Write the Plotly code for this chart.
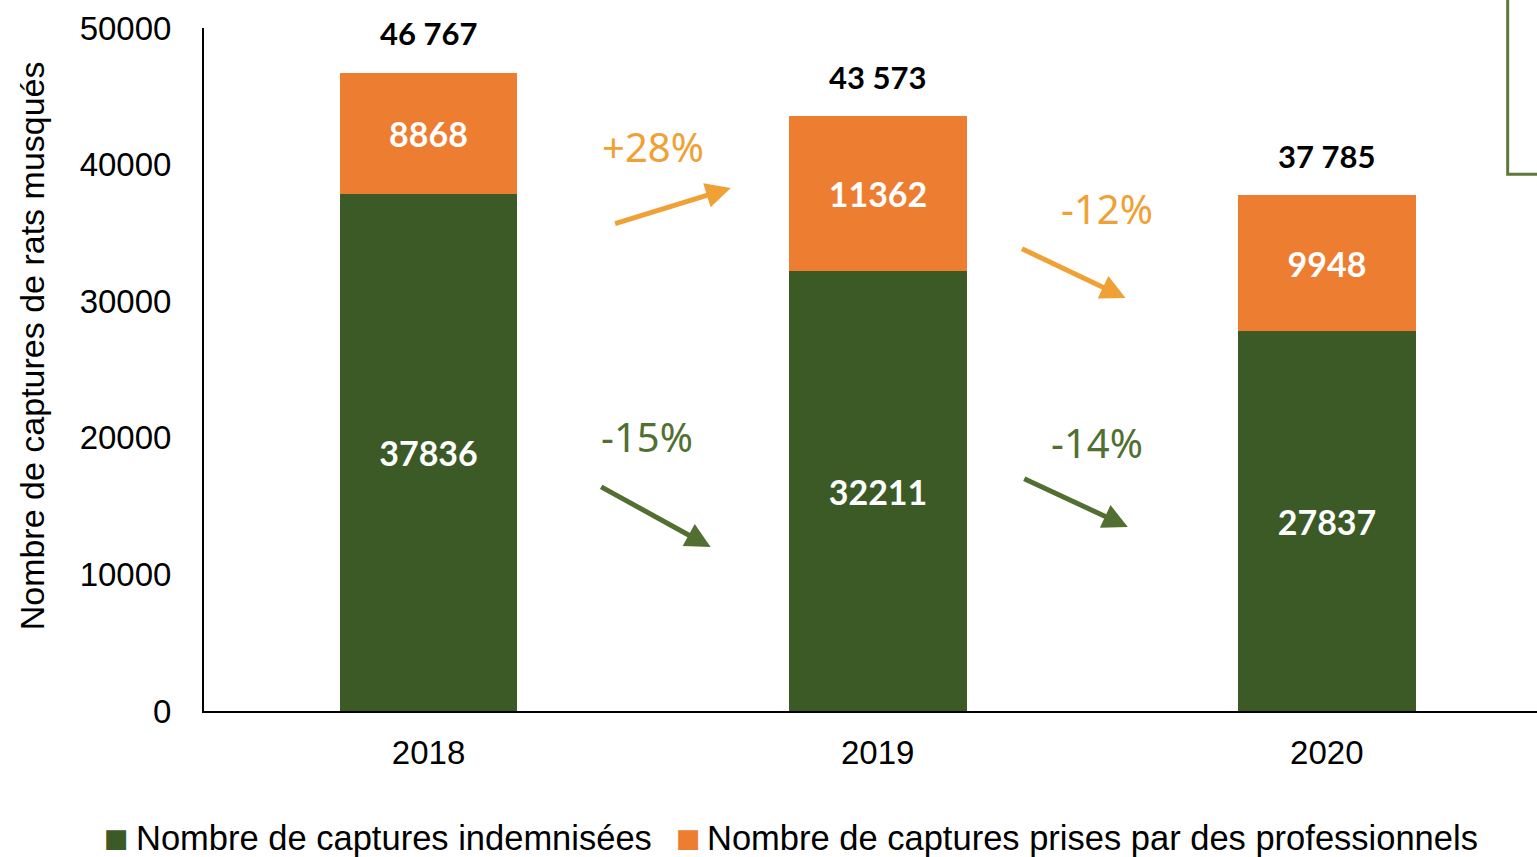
import plotly.graph_objects as go

# Captures de rats musqués par année
years = ["2018", "2019", "2020"]
indemnisees = [37836, 32211, 27837]
professionnels = [8868, 11362, 9948]
totals = [46767, 43573, 37785]
total_labels = ["46 767", "43 573", "37 785"]

# Évolutions d'une année à l'autre
evol_pro = ["+28%", "-12%"]
evol_indem = ["-15%", "-14%"]

series_names = ["Nombre de captures indemnisées",
                "Nombre de captures prises par des professionnels"]

GREEN = "#3B5A26"
ORANGE = "#ED7D31"
ARROW_ORANGE = "#F0A135"
ARROW_GREEN = "#526F32"

x = list(range(len(years)))

fig = go.Figure()
fig.add_trace(go.Bar(
    x=x, y=indemnisees, name=series_names[0],
    marker=dict(color=GREEN, line=dict(width=0)), width=0.396,
    text=[str(v) for v in indemnisees], textposition="inside",
    insidetextanchor="middle", textangle=0,
    textfont=dict(family="Lato", size=34, color="white", weight="bold"),
))
fig.add_trace(go.Bar(
    x=x, y=professionnels, name=series_names[1],
    marker=dict(color=ORANGE, line=dict(width=0)), width=0.396,
    text=[str(v) for v in professionnels], textposition="inside",
    insidetextanchor="middle", textangle=0,
    textfont=dict(family="Lato", size=34, color="white", weight="bold"),
))

annotations = []
for xi, t, lab in zip(x, totals, total_labels):
    annotations.append(dict(
        x=xi, y=t, text=lab, showarrow=False, yanchor="bottom", yshift=18,
        font=dict(family="Lato", size=31, color="black", weight="bold"),
    ))

# Flèches d'évolution entre deux années consécutives
pro_arrows = [((0.412, 35650), (0.673, 38290)), ((1.318, 33890), (1.552, 30230))]
indem_arrows = [((0.381, 16470), (0.628, 12000)), ((1.323, 17060), (1.557, 13470))]
pro_text_pos = [(0.499, 41290), (1.51, 36820)]
indem_text_pos = [(0.486, 20060), (1.488, 19690)]

for arrows, color in ((pro_arrows, ARROW_ORANGE), (indem_arrows, ARROW_GREEN)):
    for (x0, y0), (x1, y1) in arrows:
        annotations.append(dict(
            x=x1, y=y1, ax=x0, ay=y0, xref="x", yref="y", axref="x", ayref="y",
            text="", showarrow=True, arrowhead=2, arrowsize=1.0, arrowwidth=5,
            arrowcolor=color,
        ))

for labels, pos, color in ((evol_pro, pro_text_pos, ARROW_ORANGE),
                           (evol_indem, indem_text_pos, ARROW_GREEN)):
    for lab, (px, py) in zip(labels, pos):
        annotations.append(dict(
            x=px, y=py, text=lab, showarrow=False,
            font=dict(family="Noto Sans", size=40, color=color),
        ))

annotations.append(dict(
    x=-0.129, y=0.534, xref="paper", yref="paper", textangle=-90,
    xanchor="center", yanchor="middle",
    text="Nombre de captures de rats musqués", showarrow=False,
    font=dict(family="Liberation Sans", size=34, color="black"),
))

# Légende sous le graphique : pastille de couleur + libellé de chaque série
legend_y = -0.186
for name, color, key_x, text_x in ((series_names[0], GREEN, -0.0656, -0.0525),
                                   (series_names[1], ORANGE, 0.3635, 0.376)):
    annotations.append(dict(
        x=key_x, y=legend_y, xref="paper", yref="paper", xanchor="center",
        yanchor="middle", text="■", showarrow=False,
        font=dict(family="DejaVu Sans", size=26, color=color),
    ))
    annotations.append(dict(
        x=text_x, y=legend_y, xref="paper", yref="paper", xanchor="left",
        yanchor="middle", text=name, showarrow=False,
        font=dict(family="Liberation Sans", size=34.5, color="black"),
    ))

fig.update_layout(
    width=1537, height=857,
    margin=dict(l=204, r=0, t=28, b=146),
    paper_bgcolor="white", plot_bgcolor="white",
    barmode="stack", bargap=0,
    showlegend=False,
    annotations=annotations,
    shapes=[dict(
        type="path", xref="paper", yref="paper",
        path="M 0.978 1.05 L 0.978 0.786 L 1.01 0.786",
        line=dict(color="#5E7A3A", width=3),
    )],
)

fig.update_xaxes(
    range=[-0.5, 2.468], tickmode="array", tickvals=x, ticktext=years,
    showline=True, linecolor="black", linewidth=2, showgrid=False,
    ticks="", tickfont=dict(family="Liberation Sans", size=33, color="black"),
    ticklabelstandoff=11, zeroline=False,
)
fig.update_yaxes(
    range=[0, 50000], tickvals=[0, 10000, 20000, 30000, 40000, 50000],
    showline=True, linecolor="black", linewidth=2, showgrid=False,
    ticks="", tickfont=dict(family="Liberation Sans", size=33, color="black"),
    ticklabelstandoff=24, zeroline=False, tickformat="d",
)

fig.write_html("out.html")
